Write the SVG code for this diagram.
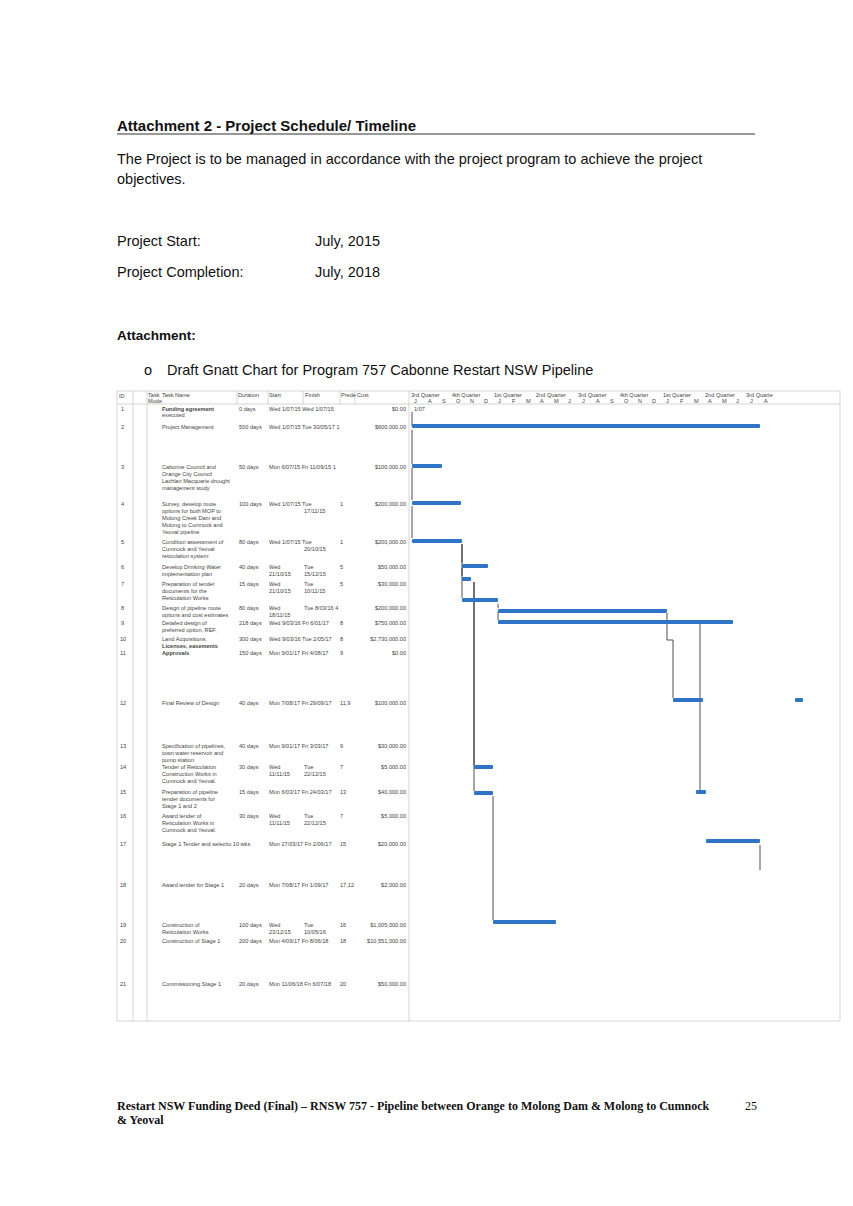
<svg xmlns="http://www.w3.org/2000/svg" width="853" height="1206" viewBox="0 0 853 1206">
<style>
.h{font-family:"Liberation Sans",Arial,sans-serif;fill:#111}
.t{font-family:"Liberation Sans",Arial,sans-serif;font-size:5.6px;fill:#444}
.g{fill:none;stroke:#bbb;stroke-width:0.6}
.bar{fill:#2e75c8}
.ln{stroke:#222;stroke-width:0.8;fill:none}
</style>
<rect width="853" height="1206" fill="#fff"/>
<text class="h" x="117" y="131" font-size="15" font-weight="bold">Attachment 2 - Project Schedule/ Timeline</text>
<line x1="117" y1="134" x2="755" y2="134" stroke="#333" stroke-width="1"/>
<text class="h" x="117" y="164" font-size="14.5">The Project is to be managed in accordance with the project program to achieve the project</text>
<text class="h" x="117" y="184" font-size="14.5">objectives.</text>
<text class="h" x="117" y="246" font-size="14.5">Project Start:</text>
<text class="h" x="315" y="246" font-size="14.5">July, 2015</text>
<text class="h" x="117" y="277" font-size="14.5">Project Completion:</text>
<text class="h" x="315" y="277" font-size="14.5">July, 2018</text>
<text class="h" x="117" y="340" font-size="13.5" font-weight="bold">Attachment:</text>
<text class="h" x="144" y="375" font-size="14.5">o</text>
<text class="h" x="167" y="375" font-size="14.5">Draft Gnatt Chart for Program 757 Cabonne Restart NSW Pipeline</text>

<g id="table">
<rect class="g" x="117" y="391" width="723" height="630"/>
<line class="g" x1="117" y1="404" x2="840" y2="404"/>
<line class="g" x1="133" y1="391" x2="133" y2="1021"/>
<line class="g" x1="147" y1="391" x2="147" y2="1021"/>
<line class="g" x1="237" y1="391" x2="237" y2="404"/>
<line class="g" x1="268" y1="391" x2="268" y2="404"/>
<line class="g" x1="303" y1="391" x2="303" y2="404"/>
<line class="g" x1="340" y1="391" x2="340" y2="404"/>
<line class="g" x1="355" y1="391" x2="355" y2="404"/>
<line class="g" x1="409" y1="391" x2="409" y2="1021"/>
<text class="t" x="119" y="398">ID</text><text class="t" x="148" y="397">Task</text><text class="t" x="148" y="403">Mode</text>
<text class="t" x="162" y="397">Task Name</text><text class="t" x="238" y="397">Duration</text>
<text class="t" x="269" y="397">Start</text><text class="t" x="305" y="397">Finish</text>
<text class="t" x="341" y="397">Prede</text><text class="t" x="357" y="397">Cost</text>
</g>
<g id="rows">
<g class="t">
<text x="121" y="411">1</text><text x="162" y="411" font-weight="bold">Funding agreement</text><text x="162" y="417">executed</text><text x="239" y="411">0 days</text><text x="269" y="411">Wed 1/07/15 Wed 1/07/15</text><text x="406" y="411" text-anchor="end">$0.00</text>
<text x="121" y="429">2</text><text x="162" y="429">Project Management</text><text x="239" y="429">500 days</text><text x="269" y="429">Wed 1/07/15 Tue 30/05/17 1</text><text x="406" y="429" text-anchor="end">$600,000.00</text>
<text x="121" y="469">3</text><text x="162" y="469">Cabonne Council and</text><text x="162" y="476">Orange City Council</text><text x="162" y="483">Lachlan Macquarie drought</text><text x="162" y="490">management study</text><text x="239" y="469">50 days</text><text x="269" y="469">Mon 6/07/15 Fri 11/09/15 1</text><text x="406" y="469" text-anchor="end">$100,000.00</text>
<text x="121" y="506">4</text><text x="162" y="506">Survey, develop route</text><text x="162" y="513">options for both MOP to</text><text x="162" y="520">Molong Creek Dam and</text><text x="162" y="527">Molong to Cumnock and</text><text x="162" y="534">Yeoval pipeline</text><text x="239" y="506">100 days</text><text x="269" y="506">Wed 1/07/15 Tue</text><text x="304" y="513">17/11/15</text><text x="340" y="506">1</text><text x="406" y="506" text-anchor="end">$200,000.00</text>
<text x="121" y="544">5</text><text x="162" y="544">Condition assessment of</text><text x="162" y="551">Cumnock and Yeoval</text><text x="162" y="558">reticulation system</text><text x="239" y="544">80 days</text><text x="269" y="544">Wed 1/07/15 Tue</text><text x="304" y="551">20/10/15</text><text x="340" y="544">1</text><text x="406" y="544" text-anchor="end">$200,000.00</text>
<text x="121" y="569">6</text><text x="162" y="569">Develop Drinking Water</text><text x="162" y="576">implementation plan</text><text x="239" y="569">40 days</text><text x="269" y="569">Wed</text><text x="269" y="576">21/10/15</text><text x="304" y="569">Tue</text><text x="304" y="576">15/12/15</text><text x="340" y="569">5</text><text x="406" y="569" text-anchor="end">$50,000.00</text>
<text x="121" y="586">7</text><text x="162" y="586">Preparation of tender</text><text x="162" y="593">documents for the</text><text x="162" y="600">Reticulation Works</text><text x="239" y="586">15 days</text><text x="269" y="586">Wed</text><text x="269" y="593">21/10/15</text><text x="304" y="586">Tue</text><text x="304" y="593">10/11/15</text><text x="340" y="586">5</text><text x="406" y="586" text-anchor="end">$30,000.00</text>
<text x="121" y="610">8</text><text x="162" y="610">Design of pipeline route</text><text x="162" y="617">options and cost estimates</text><text x="239" y="610">80 days</text><text x="269" y="610">Wed</text><text x="269" y="617">18/11/15</text><text x="304" y="610">Tue 8/03/16 4</text><text x="406" y="610" text-anchor="end">$200,000.00</text>
<text x="121" y="625">9</text><text x="162" y="625">Detailed design of</text><text x="162" y="632">preferred option, REF,</text><text x="239" y="625">218 days</text><text x="269" y="625">Wed 9/03/16 Fri 6/01/17</text><text x="340" y="625">8</text><text x="406" y="625" text-anchor="end">$750,000.00</text>
<text x="120" y="641">10</text><text x="162" y="641">Land Acquisitions,</text><text x="162" y="648" font-weight="bold">Licenses, easements</text><text x="239" y="641">300 days</text><text x="269" y="641">Wed 9/03/16 Tue 2/05/17</text><text x="340" y="641">8</text><text x="406" y="641" text-anchor="end">$2,730,000.00</text>
<text x="120" y="655">11</text><text x="162" y="655" font-weight="bold">Approvals</text><text x="239" y="655">150 days</text><text x="269" y="655">Mon 9/01/17 Fri 4/08/17</text><text x="340" y="655">9</text><text x="406" y="655" text-anchor="end">$0.00</text>
<text x="120" y="705">12</text><text x="162" y="705">Final Review of Design</text><text x="239" y="705">40 days</text><text x="269" y="705">Mon 7/08/17 Fri 29/09/17</text><text x="340" y="705">11,9</text><text x="406" y="705" text-anchor="end">$100,000.00</text>
<text x="120" y="748">13</text><text x="162" y="748">Specification of pipelines,</text><text x="162" y="755">town water reservoir and</text><text x="162" y="762">pump station</text><text x="239" y="748">40 days</text><text x="269" y="748">Mon 9/01/17 Fri 3/03/17</text><text x="340" y="748">9</text><text x="406" y="748" text-anchor="end">$30,000.00</text>
<text x="120" y="769">14</text><text x="162" y="769">Tender of Reticulation</text><text x="162" y="776">Construction Works in</text><text x="162" y="783">Cumnock and Yeoval.</text><text x="239" y="769">30 days</text><text x="269" y="769">Wed</text><text x="269" y="776">11/11/15</text><text x="304" y="769">Tue</text><text x="304" y="776">22/12/15</text><text x="340" y="769">7</text><text x="406" y="769" text-anchor="end">$5,000.00</text>
<text x="120" y="794">15</text><text x="162" y="794">Preparation of pipeline</text><text x="162" y="801">tender documents for</text><text x="162" y="808">Stage 1 and 2</text><text x="239" y="794">15 days</text><text x="269" y="794">Mon 6/03/17 Fri 24/03/17</text><text x="340" y="794">13</text><text x="406" y="794" text-anchor="end">$40,000.00</text>
<text x="120" y="818">16</text><text x="162" y="818">Award tender of</text><text x="162" y="825">Reticulation Works in</text><text x="162" y="832">Cumnock and Yeoval.</text><text x="239" y="818">30 days</text><text x="269" y="818">Wed</text><text x="269" y="825">11/11/15</text><text x="304" y="818">Tue</text><text x="304" y="825">22/12/15</text><text x="340" y="818">7</text><text x="406" y="818" text-anchor="end">$5,000.00</text>
<text x="120" y="846">17</text><text x="162" y="846">Stage 1 Tender and selectio 10 wks</text><text x="269" y="846">Mon 27/03/17 Fri 2/06/17</text><text x="340" y="846">15</text><text x="406" y="846" text-anchor="end">$20,000.00</text>
<text x="120" y="887">18</text><text x="162" y="887">Award tender for Stage 1</text><text x="239" y="887">20 days</text><text x="269" y="887">Mon 7/08/17 Fri 1/09/17</text><text x="340" y="887">17,12</text><text x="406" y="887" text-anchor="end">$2,000.00</text>
<text x="120" y="927">19</text><text x="162" y="927">Construction of</text><text x="162" y="934">Reticulation Works</text><text x="239" y="927">100 days</text><text x="269" y="927">Wed</text><text x="269" y="934">23/12/15</text><text x="304" y="927">Tue</text><text x="304" y="934">10/05/16</text><text x="340" y="927">16</text><text x="406" y="927" text-anchor="end">$1,005,000.00</text>
<text x="120" y="943">20</text><text x="162" y="943">Construction of Stage 1</text><text x="239" y="943">200 days</text><text x="269" y="943">Mon 4/09/17 Fri 8/06/18</text><text x="340" y="943">18</text><text x="406" y="943" text-anchor="end">$10,551,000.00</text>
<text x="120" y="986">21</text><text x="162" y="986">Commissioning Stage 1</text><text x="239" y="986">20 days</text><text x="269" y="986">Mon 11/06/18 Fri 6/07/18</text><text x="340" y="986">20</text><text x="406" y="986" text-anchor="end">$50,000.00</text>
</g>
</g>
<g id="timescale" class="t" font-size="5">
<text x="411" y="397">3rd Quarter</text><text x="452" y="397">4th Quarter</text><text x="494" y="397">1st Quarter</text><text x="536" y="397">2nd Quarter</text><text x="578" y="397">3rd Quarter</text><text x="620" y="397">4th Quarter</text><text x="663" y="397">1st Quarter</text><text x="705" y="397">2nd Quarter</text><text x="746" y="397">3rd Quarte</text>
<text x="414" y="403">J</text><text x="428" y="403">A</text><text x="442" y="403">S</text><text x="456" y="403">O</text><text x="470" y="403">N</text><text x="484" y="403">D</text><text x="498" y="403">J</text><text x="512" y="403">F</text><text x="526" y="403">M</text><text x="540" y="403">A</text><text x="554" y="403">M</text><text x="568" y="403">J</text><text x="582" y="403">J</text><text x="596" y="403">A</text><text x="610" y="403">S</text><text x="624" y="403">O</text><text x="638" y="403">N</text><text x="652" y="403">D</text><text x="666" y="403">J</text><text x="680" y="403">F</text><text x="694" y="403">M</text><text x="708" y="403">A</text><text x="722" y="403">M</text><text x="736" y="403">J</text><text x="750" y="403">J</text><text x="764" y="403">A</text>
<text x="414" y="411">1/07</text>
</g>
<g id="connectors" class="ln">
<path d="M412 412V426M412 430V464M412 468V500M412 506V538"/>
<path d="M462 544V563M462 568V576M462 544V598"/>
<path d="M498 604V608M498 612V620"/>
<path d="M667 613V640H673V698"/>
<path d="M474 582V765"/>
<path d="M474 582V791"/>
<path d="M493 796V920"/>
<path d="M700 622V790"/>
<path d="M760 845V870"/>
</g>
<g id="bars">
<rect class="bar" x="412" y="424" width="348" height="4" rx="1"/>
<rect class="bar" x="412" y="464" width="30" height="4" rx="1"/>
<rect class="bar" x="412" y="501" width="49" height="4" rx="1"/>
<rect class="bar" x="412" y="539" width="50" height="4" rx="1"/>
<rect class="bar" x="462" y="564" width="26" height="4" rx="1"/>
<rect class="bar" x="462" y="577" width="9" height="4" rx="1"/>
<rect class="bar" x="462" y="598" width="36" height="4" rx="1"/>
<rect class="bar" x="498" y="609" width="169" height="4" rx="1"/>
<rect class="bar" x="498" y="620" width="235" height="4" rx="1"/>
<rect class="bar" x="673" y="698" width="30" height="4" rx="1"/>
<rect class="bar" x="795" y="698" width="8" height="4" rx="1"/>
<rect class="bar" x="474" y="765" width="19" height="4" rx="1"/>
<rect class="bar" x="696" y="790" width="10" height="4" rx="1"/>
<rect class="bar" x="474" y="791" width="19" height="4" rx="1"/>
<rect class="bar" x="706" y="839" width="54" height="4" rx="1"/>
<rect class="bar" x="493" y="920" width="63" height="4" rx="1"/>
</g>
<text x="117" y="1110" font-family="Liberation Serif,serif" font-size="12" font-weight="bold" fill="#111">Restart NSW Funding Deed (Final) – RNSW 757 - Pipeline between Orange to Molong Dam &amp; Molong to Cumnock</text>
<text x="117" y="1124" font-family="Liberation Serif,serif" font-size="12" font-weight="bold" fill="#111">&amp; Yeoval</text>
<text x="745" y="1110" font-family="Liberation Serif,serif" font-size="12" fill="#111">25</text>
</svg>
